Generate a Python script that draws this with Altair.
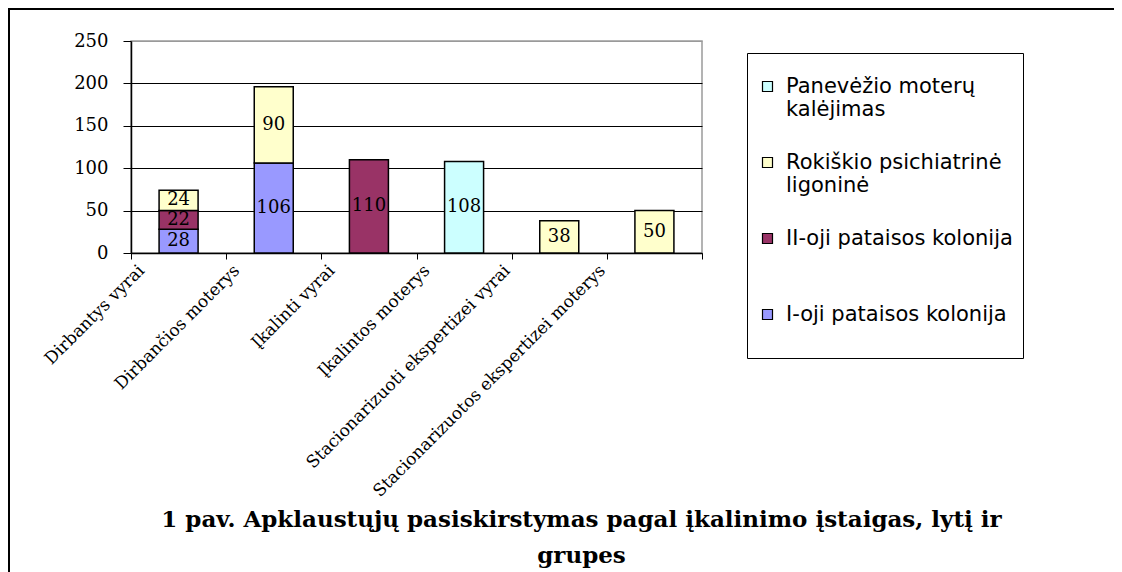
import altair as alt
import pandas as pd

categories = [
    "Dirbantys vyrai",
    "Dirbančios moterys",
    "Įkalinti vyrai",
    "Įkalintos moterys",
    "Stacionarizuoti ekspertizei vyrai",
    "Stacionarizuotos ekspertizei moterys",
]

# series in stacking order (bottom -> top); "\n" marks the legend line break
series = [
    "I-oji pataisos kolonija",
    "II-oji pataisos kolonija",
    "Rokiškio psichiatrinė\nligoninė",
    "Panevėžio moterų\nkalėjimas",
]
colors = ["#9999FF", "#993366", "#FFFFCC", "#CCFFFF"]

i_oji = [28, 106, 0, 0, 0, 0]
ii_oji = [22, 0, 110, 0, 0, 0]
rokiskio = [24, 90, 0, 0, 38, 50]
panevezio = [0, 0, 0, 108, 0, 0]

title_lines = [
    "1 pav. Apklaustųjų pasiskirstymas pagal įkalinimo įstaigas, lytį ir",
    "grupes",
]

rows = []
for s_idx, vals in enumerate([i_oji, ii_oji, rokiskio, panevezio]):
    for c, v in zip(categories, vals):
        if v > 0:
            rows.append({"category": c, "series": series[s_idx], "order": s_idx, "value": v})
df = pd.DataFrame(rows)

SERIF = "DejaVu Serif"
SANS = "DejaVu Sans"

x_enc = alt.X(
    "category:N",
    sort=categories,
    scale=alt.Scale(paddingInner=0, paddingOuter=0),
    axis=alt.Axis(
        title=None,
        labelAngle=-45,
        labelAlign="right",
        labelBaseline="top",
        labelFont=SERIF,
        labelFontSize=17,
        labelColor="black",
        labelLimit=600,
        labelOffset={"condition": {"test": "length(datum.label) > 25", "value": -58}, "value": -43},
        labelPadding=3,
        tickBand="extent",
        tickSize=6,
        tickColor="black",
        domainColor="black",
        domainWidth=1.5,
        grid=False,
    ),
)

y_enc = alt.Y(
    "value:Q",
    stack="zero",
    scale=alt.Scale(domain=[0, 250], nice=False),
    axis=alt.Axis(
        title=None,
        values=[0, 50, 100, 150, 200, 250],
        grid=True,
        gridColor={"condition": {"test": "datum.value === 250", "value": "#9a9a9a"}, "value": "#000000"},
        gridWidth=1,
        labelFont=SERIF,
        labelFontSize=18,
        labelColor="black",
        labelPadding=15,
        tickSize=8,
        tickColor="black",
        domainColor="black",
        domainWidth=1.5,
    ),
)

legend_order = list(reversed(series))
legend_colors = list(reversed(colors))

bars = alt.Chart(df).mark_bar(size=39, stroke="black", strokeWidth=1.5).encode(
    x=x_enc,
    y=y_enc,
    color=alt.Color(
        "series:N",
        scale=alt.Scale(domain=legend_order, range=legend_colors),
        legend=alt.Legend(
            title=" ",
            titleFontSize=1,
            titlePadding=12,
            orient="none",
            legendX=616,
            legendY=12,
            direction="vertical",
            symbolType="square",
            symbolSize=100,
            symbolStrokeColor="black",
            symbolStrokeWidth=1.2,
            symbolOpacity=1,
            labelFont=SANS,
            labelFontSize=21,
            labelColor="black",
            labelLimit=600,
            labelOffset=8,
            labelExpr="[split(datum.label, '\\n')[0], split(datum.label, '\\n')[1] || ' ']",
            strokeColor="black",
            fillColor="white",
            padding=10,
            rowPadding=31,
        ),
    ),
    order=alt.Order("order:Q"),
)

labels = (
    alt.Chart(df)
    .transform_stack(
        stack="value",
        groupby=["category"],
        sort=[alt.SortField("order", order="ascending")],
        as_=["v0", "v1"],
    )
    .transform_calculate(mid="(datum.v0 + datum.v1) / 2")
    .mark_text(font=SERIF, fontSize=18, color="black", baseline="middle")
    .encode(
        x=alt.X("category:N", sort=categories),
        y=alt.Y("mid:Q"),
        text=alt.Text("value:Q"),
    )
)

# outer frame of the figure (top and left edges visible)
frame = (
    alt.Chart(pd.DataFrame({"k": [0]}))
    .mark_rect(fill=None, stroke="black", strokeWidth=2)
    .encode(x=alt.value(-122), x2=alt.value(1010), y=alt.value(-32), y2=alt.value(620))
)

chart = (
    alt.layer(frame, bars, labels)
    .properties(
        width=571,
        height=212,
        padding={"left": 123, "top": 33, "right": 412, "bottom": 319},
        autosize=alt.AutoSizeParams(type="none"),
        title=alt.TitleParams(
            text=title_lines,
            orient="top",
            anchor="middle",
            frame="group",
            baseline="top",
            dx=165,
            offset=-560,
            font=SERIF,
            fontSize=23,
            fontWeight="bold",
            color="black",
            lineHeight=36,
        ),
    )
    .configure_view(stroke="#9a9a9a", strokeWidth=1.5)
)

chart.save("out.html", embed_options={"renderer": "svg", "actions": False})
